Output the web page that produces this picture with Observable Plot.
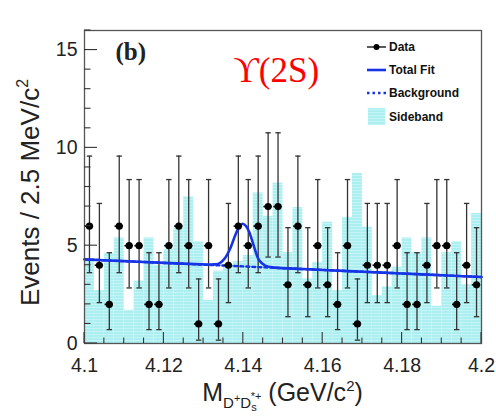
<!DOCTYPE html>
<html><head><meta charset="utf-8">
<script src="https://cdn.jsdelivr.net/npm/d3@7"></script>
<script src="https://cdn.jsdelivr.net/npm/@observablehq/plot@0.6"></script>
<style>
body{margin:0;background:#fff;}
#chart{width:496px;height:420px;}
</style>
</head><body><div id="chart"></div>
<script>
// ---- data ----
const binCenters = [4.10125,4.10375,4.10625,4.10875,4.11125,4.11375,4.11625,4.11875,4.12125,4.12375,
  4.12625,4.12875,4.13125,4.13375,4.13625,4.13875,4.14125,4.14375,4.14625,4.14875,
  4.15125,4.15375,4.15625,4.15875,4.16125,4.16375,4.16625,4.16875,4.17125,4.17375,
  4.17625,4.17875,4.18125,4.18375,4.18625,4.18875,4.19125,4.19375,4.19625,4.19875];
const halfBin = 0.00125;
const dataCounts = [6,4,2,6,5,5,2,2,5,6, 5,1,5,1,4,6,5,6,7,7, 3,6,3,5,3,2,5,1,4,4, 4,5,2,2,4,5,5,2,4,3];
const sidebandCounts = [4.2,2.7,4.6,5.4,1.7,3.2,5.4,4.0,4.8,5.9, 7.5,5.2,2.2,3.7,4.0,4.2,4.5,7.7,6.5,8.2,
  4.65,6.95,3.3,4.15,6.2,2.7,6.45,8.7,5.95,2.45, 2.9,3.9,5.4,4.65,5.4,1.9,4.65,5.2,3.0,6.65];
// asymmetric Poisson error sizes, indexed by the count
const errLowByCount  = [0, 0.83, 1.29, 1.63, 1.91, 2.16, 2.38, 2.58];
const errHighByCount = [1.29, 2.30, 2.64, 2.92, 3.16, 3.38, 3.58, 3.77];
// total fit curve
const fitMass = [4.100,4.110,4.120,4.128,4.132,4.134,4.1355,4.1368,4.138,4.139,4.1398,4.1407,4.1415,4.1427,4.144,4.1455,4.148,4.155,4.160,4.170,4.180,4.190,4.200];
const fitValue = [4.30,4.21,4.12,4.06,4.04,4.10,4.40,4.90,5.55,5.95,6.12,6.00,5.70,4.95,4.25,3.98,3.88,3.81,3.76,3.67,3.58,3.49,3.40];
// background (linear)
const bkgMass = [4.100, 4.200];
const bkgValue = [4.30, 3.40];
const xTickValues = [4.1, 4.12, 4.14, 4.16, 4.18, 4.2];
const yTickValues = [0, 5, 10, 15];
const legendLabels = ["Data", "Total Fit", "Background", "Sideband"];

// ---- tables built from the arrays ----
const bins = binCenters.map((c, i) => ({
  c, n: dataCounts[i], s: sidebandCounts[i],
  lo: dataCounts[i] - errLowByCount[dataCounts[i]],
  hi: dataCounts[i] + errHighByCount[dataCounts[i]]
}));
const fit = fitMass.map((m, i) => ({m, v: fitValue[i]}));
const bkg = bkgMass.map((m, i) => ({m, v: bkgValue[i]}));

const BLUE = "#1733e6";
const SANS = "Liberation Sans, Arial, Helvetica, sans-serif";
const capSymbol = {draw(ctx, size) { const r = Math.sqrt(size / Math.PI); ctx.moveTo(-r, 0); ctx.lineTo(r, 0); }};

function defsMark() {
  const g = d3.create("svg:defs");
  const p = g.append("pattern").attr("id", "sbHatch").attr("patternUnits", "userSpaceOnUse")
    .attr("width", 4).attr("height", 3);
  p.append("rect").attr("width", 4).attr("height", 3).attr("fill", "#adeff1");
  p.append("rect").attr("y", 1).attr("width", 4).attr("height", 1).attr("fill", "#c3f5f6");
  return g.node();
}

function ticksMark(index, scales, values, dims) {
  const {x, y} = scales;
  const g = d3.create("svg:g").attr("stroke", "#333").attr("stroke-width", 1.1);
  const bottom = dims.height - dims.marginBottom;
  const left = dims.marginLeft;
  for (const t of d3.ticks(4.1, 4.2, 20)) {
    const major = Math.abs(t * 50 - Math.round(t * 50)) < 1e-6;
    g.append("line").attr("x1", x(t)).attr("x2", x(t)).attr("y1", bottom).attr("y2", bottom - (major ? 11 : 5.5));
  }
  for (const t of d3.ticks(0, 16, 16)) {
    const major = t % 5 === 0;
    g.append("line").attr("y1", y(t)).attr("y2", y(t)).attr("x1", left).attr("x2", left + (major ? 13 : 6.5));
  }
  return g.node();
}

function titlesMark(index, scales, values, dims) {
  const g = d3.create("svg:g").attr("font-family", SANS).attr("fill", "#222");
  const cx = (dims.marginLeft + dims.width - dims.marginRight) / 2;
  const t = g.append("text").attr("x", cx).attr("y", 401).attr("text-anchor", "middle").attr("font-size", 25);
  t.append("tspan").text("M");
  t.append("tspan").attr("font-size", 15).attr("dy", 7).text("D");
  t.append("tspan").attr("font-size", 11).attr("dy", -6).text("+");
  t.append("tspan").attr("font-size", 15).attr("dy", 6).text("D");
  t.append("tspan").attr("font-size", 11).attr("dy", 3).text("s");
  t.append("tspan").attr("font-size", 11).attr("dx", -6).attr("dy", -11).text("*+");
  t.append("tspan").attr("dy", 1).text("\u00a0(GeV/c");
  t.append("tspan").attr("font-size", 15).attr("dy", -10).text("2");
  t.append("tspan").attr("dy", 10).text(")");
  const cy = (dims.marginTop + dims.height - dims.marginBottom) / 2 + 6;
  const yt = g.append("text").attr("transform", `translate(39,${cy}) rotate(-90)`)
    .attr("text-anchor", "middle").attr("font-size", 26);
  yt.append("tspan").text("Events / 2.5 MeV/c");
  yt.append("tspan").attr("font-size", 16).attr("dy", -11).text("2");
  return g.node();
}

function legendMark() {
  const g = d3.create("svg:g").attr("font-family", SANS).attr("font-weight", "bold").attr("font-size", 12)
    .attr("fill", "#111").attr("text-anchor", "start");
  const x0 = 367, x1 = 386, tx = 389;
  const ys = [47, 70, 93, 116.5];
  g.append("line").attr("x1", x0).attr("x2", x1).attr("y1", ys[0]).attr("y2", ys[0]).attr("stroke", "#000").attr("stroke-width", 1.3);
  g.append("circle").attr("cx", (x0 + x1) / 2).attr("cy", ys[0]).attr("r", 3).attr("fill", "#000");
  g.append("line").attr("x1", x0).attr("x2", x1).attr("y1", ys[1]).attr("y2", ys[1]).attr("stroke", BLUE).attr("stroke-width", 2.6);
  g.append("line").attr("x1", x0).attr("x2", x1).attr("y1", ys[2]).attr("y2", ys[2]).attr("stroke", BLUE).attr("stroke-width", 2.6).attr("stroke-dasharray", "2.5,3");
  g.append("rect").attr("x", x0 + 1).attr("y", ys[3] - 8.5).attr("width", 17).attr("height", 17).attr("fill", "url(#sbHatch)");
  legendLabels.forEach((l, i) => g.append("text").attr("x", tx).attr("y", ys[i]).attr("dy", "0.36em").attr("text-anchor", "start").text(l));
  return g.node();
}

const chart = Plot.plot({
  width: 496, height: 420,
  marginLeft: 84, marginRight: 15, marginTop: 30, marginBottom: 77,
  style: {fontFamily: SANS, color: "#222", background: "#fff"},
  x: {domain: [4.1, 4.2]},
  y: {domain: [0, 16]},
  marks: [
    defsMark,
    Plot.rectY(bins, {x1: d => d.c - halfBin, x2: d => d.c + halfBin, y: "s", fill: "url(#sbHatch)"}),
    Plot.ruleX(bins, {x: "c", y1: "lo", y2: "hi", stroke: "#333", strokeWidth: 1.3}),
    Plot.dot(bins, {x: "c", y: "lo", r: 2.7, symbol: capSymbol, stroke: "#333", strokeWidth: 1.3, fill: "none"}),
    Plot.dot(bins, {x: "c", y: "hi", r: 2.7, symbol: capSymbol, stroke: "#333", strokeWidth: 1.3, fill: "none"}),
    Plot.line(bkg, {x: "m", y: "v", stroke: BLUE, strokeWidth: 2.4, strokeDasharray: "3,3"}),
    Plot.line(fit, {x: "m", y: "v", stroke: BLUE, strokeWidth: 2.6, curve: "catmull-rom"}),
    Plot.ruleY(bins, {y: "n", x1: d => d.c - halfBin * 0.85, x2: d => d.c + halfBin * 0.85, stroke: "#000", strokeWidth: 1.6}),
    Plot.dot(bins, {x: "c", y: "n", r: 3.6, fill: "#000"}),
    Plot.frame({stroke: "#555", strokeWidth: 1.3}),
    ticksMark,
    Plot.axisX({ticks: xTickValues, tickSize: 0, tickPadding: 15, fontSize: 19.5, tickFormat: d => String(+d.toFixed(2)), label: null}),
    Plot.axisY({ticks: yTickValues, tickSize: 0, tickPadding: 7, fontSize: 19.5, label: null}),
    Plot.text(["(b)"], {text: d => d, frameAnchor: "top-left", dx: 31, dy: 21, textAnchor: "start", lineAnchor: "middle",
      fontSize: 25, fontWeight: "bold", fontFamily: "Liberation Serif, DejaVu Serif, serif", fill: "#222"}),
    Plot.text(["\u03d2(2S)"], {text: d => d, frameAnchor: "top-left", dx: 149, dy: 40, textAnchor: "start", lineAnchor: "middle",
      fontSize: 35, fontFamily: "Liberation Serif, DejaVu Serif, serif", fill: "#ff0000"}),
    titlesMark,
    legendMark
  ]
});
document.getElementById("chart").appendChild(chart);
</script>
</body></html>
